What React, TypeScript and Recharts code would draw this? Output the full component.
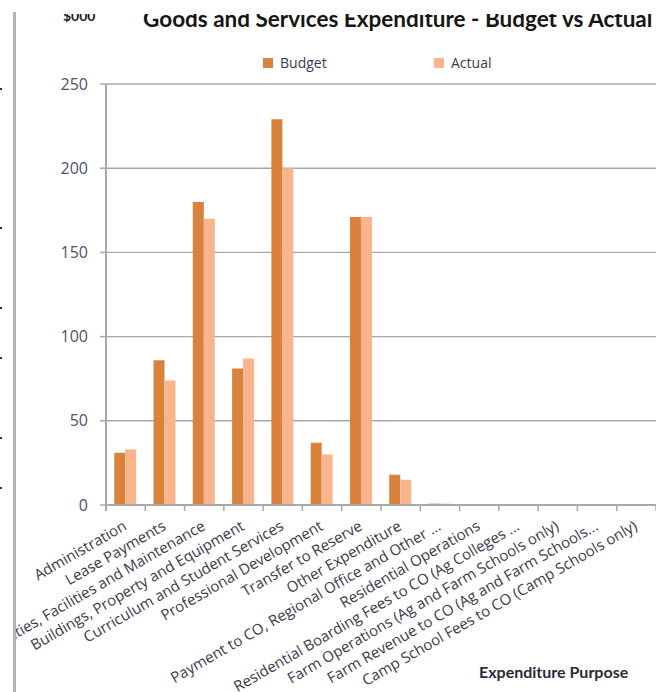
import { Bar, BarChart, CartesianGrid, XAxis, YAxis } from "recharts";

const categories = [
    "Administration",
    "Lease Payments",
    "Utilities, Facilities and Maintenance",
    "Buildings, Property and Equipment",
    "Curriculum and Student Services",
    "Professional Development",
    "Transfer to Reserve",
    "Other Expenditure",
    "Payment to CO, Regional Office and Other ...",
    "Residential Operations",
    "Residential Boarding Fees to CO (Ag Colleges ...",
    "Farm Operations (Ag and Farm Schools only)",
    "Farm Revenue to CO (Ag and Farm Schools...",
    "Camp School Fees to CO (Camp Schools only)",
];
const budget = [31, 86, 180, 81, 229, 37, 171, 18, 0.8, 0, 0, 0, 0, 0];
const actual = [33, 74, 170, 87, 200, 30, 171, 15, 0.8, 0, 0, 0, 0, 0];
const yTicks = [0, 50, 100, 150, 200, 250];
const seriesNames = ["Budget", "Actual"];

const data = categories.map((name, i) => ({ name, budget: budget[i], actual: actual[i] }));

const BUDGET_COLOR = "#d9823c";
const ACTUAL_COLOR = "#f8b48c";
const GRID = "#a8a8a8";
const PLOT_LEFT = 106;
const PLOT_TOP = 84;
const PLOT_BOTTOM = 505;
const WIDTH = 656;
const HEIGHT = 692;
const BAND = (WIDTH - PLOT_LEFT) / categories.length;

function XTick(props: any) {
    const { x, payload, index } = props;
    return (
        <g>
            <line x1={x + BAND / 2} x2={x + BAND / 2} y1={PLOT_BOTTOM} y2={PLOT_BOTTOM + 6} stroke={GRID} strokeWidth={1.5} />
            {index === 0 && (
                <line x1={x - BAND / 2} x2={x - BAND / 2} y1={PLOT_BOTTOM} y2={PLOT_BOTTOM + 6} stroke={GRID} strokeWidth={2} />
            )}
            <text
                transform={`translate(${x + 2},${PLOT_BOTTOM + 24}) rotate(-30)`}
                textAnchor="end"
                fontFamily="'Open Sans', sans-serif"
                fontSize={15}
                fill="#3c3c4c"
            >
                {payload.value}
            </text>
        </g>
    );
}

export default function App() {
    return (
        <div style={{ position: "absolute", left: 0, top: 0, width: WIDTH, height: HEIGHT, background: "#fff", overflow: "hidden" }}>
            <BarChart
                width={WIDTH}
                height={HEIGHT}
                data={data}
                margin={{ top: PLOT_TOP, right: 0, left: 0, bottom: 0 }}
                barCategoryGap="21%"
                barGap={0}
            >
                <CartesianGrid vertical={false} stroke={GRID} strokeWidth={1.4} />
                <XAxis
                    dataKey="name"
                    interval={0}
                    height={HEIGHT - PLOT_BOTTOM}
                    tickLine={false}
                    axisLine={{ stroke: GRID, strokeWidth: 2 }}
                    tick={<XTick />}
                />
                <YAxis
                    width={PLOT_LEFT}
                    domain={[0, 250]}
                    ticks={yTicks}
                    tickSize={6}
                    tickMargin={12}
                    tickLine={{ stroke: GRID, strokeWidth: 1.5 }}
                    axisLine={{ stroke: GRID, strokeWidth: 2 }}
                    tick={{ fontFamily: "'Open Sans', sans-serif", fontSize: 16, fill: "#50506a" }}
                />
                <Bar dataKey="budget" name={seriesNames[0]} fill={BUDGET_COLOR} isAnimationActive={false} />
                <Bar dataKey="actual" name={seriesNames[1]} fill={ACTUAL_COLOR} isAnimationActive={false} />
            </BarChart>

            {/* titles and legend */}
            <div style={{ position: "absolute", left: 63, top: 7, fontFamily: "Lato, sans-serif", fontWeight: 700, fontSize: 14, color: "#222" }}>
                $000
            </div>
            <div style={{ position: "absolute", left: 143, top: 5, whiteSpace: "nowrap", fontFamily: "Lato, sans-serif", fontWeight: 700, fontSize: 22.5, color: "#151515" }}>
                Goods and Services Expenditure - Budget vs Actual
            </div>
            {seriesNames.map((s, i) => (
                <div key={s} style={{ position: "absolute", left: i === 0 ? 263 : 434, top: 53, display: "flex", alignItems: "center", fontFamily: "'Open Sans', sans-serif", fontSize: 14, color: "#3a3a55" }}>
                    <span style={{ display: "inline-block", width: 10, height: 10, background: i === 0 ? BUDGET_COLOR : ACTUAL_COLOR, marginRight: 7 }} />
                    {s}
                </div>
            ))}
            <div style={{ position: "absolute", left: 479, top: 662, whiteSpace: "nowrap", fontFamily: "Lato, sans-serif", fontWeight: 700, fontSize: 16, color: "#2a2a3a" }}>
                Expenditure Purpose
            </div>

            {/* cropped edges of the original screenshot */}
            <div style={{ position: "absolute", left: 0, top: 0, width: WIDTH, height: 14, background: "#fff" }} />
            <div style={{ position: "absolute", left: 0, top: 0, width: 13, height: HEIGHT, background: "#fff" }} />
            <div style={{ position: "absolute", left: 13, top: 12, width: 3, height: HEIGHT - 12, background: "#b4b4b4" }} />
            {[88, 227, 307, 357, 437, 487].map((y) => (
                <div key={y} style={{ position: "absolute", left: 0, top: y, width: 2, height: 2, background: "#333" }} />
            ))}
        </div>
    );
}
